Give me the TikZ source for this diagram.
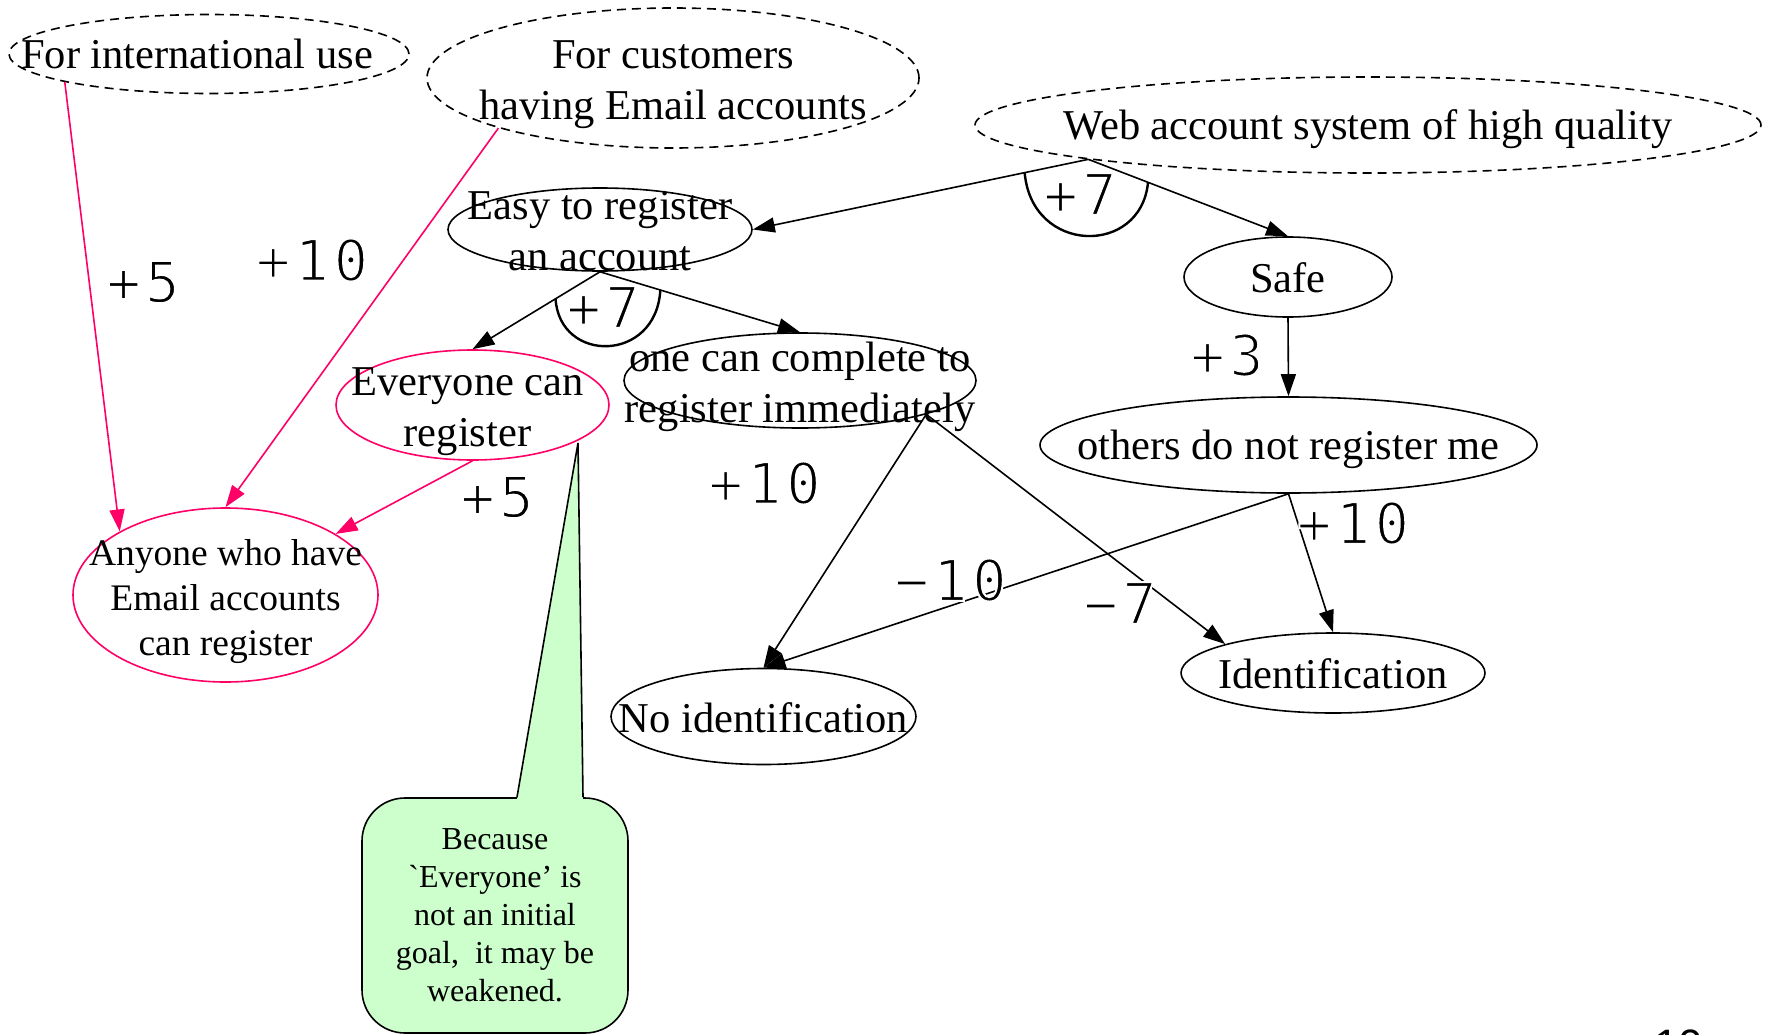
\documentclass[tikz,border=0pt]{standalone}
\usepackage{fontspec}
\setmainfont{Liberation Serif}
\newfontfamily\rawserif[Ligatures=ResetAll]{Liberation Serif}
\newfontfamily\weightfont[LetterSpace=8]{DejaVu Sans Mono}
\newfontfamily\pagefont{Liberation Sans}
\usetikzlibrary{shapes.geometric,arrows.meta,calc}
\definecolor{goalpink}{RGB}{255,0,102}
\definecolor{notegreen}{RGB}{204,255,204}
% thin glyph strokes: outline the glyphs with a white pen
\newcommand\thinstrokes[1]{\special{pdf:literal direct q 2 Tr 1 1 1 RG 2 w}#1\special{pdf:literal direct Q}}

\begin{document}
\begin{tikzpicture}[x=1pt,y=-1pt,
  goal/.style={ellipse, draw, line width=1.6pt, inner sep=0pt},
  softgoal/.style={goal, dash pattern=on 9pt off 6pt},
  pinkgoal/.style={goal, draw=goalpink},
  txt/.style={font=\fontsize{42.5}{51}\selectfont, align=center, inner sep=0pt},
  smalltxt/.style={font=\fontsize{37.5}{45}\selectfont, align=center, inner sep=0pt},
  notetxt/.style={font=\fontsize{32}{38}\selectfont, align=center, inner sep=0pt},
  weight/.style={font=\weightfont\fontsize{57}{62}\selectfont, inner sep=0pt},
  link/.style={line width=1.6pt, -{Triangle[length=22pt,width=15pt]}},
  pinklink/.style={link, draw=goalpink, -{Triangle[length=22pt,width=15pt,fill=goalpink]}},
  andarc/.style={line width=2.4pt}
]
\useasboundingbox (0,0) rectangle (1768,1035);

% soft goals (dashed)
\node[softgoal, minimum width=400pt, minimum height=79pt,
  label={[txt,xshift=-12pt]center:For international use}] (intl) at (209,54) {};
\node[softgoal, minimum width=492pt, minimum height=140pt,
  label={[txt,yshift=-7pt]center:{For customers\\having Email accounts}}] (cust) at (673,78) {};
\node[softgoal, minimum width=786pt, minimum height=96pt,
  label={[txt,yshift=-4.5pt]center:Web account system of high quality}] (web) at (1368,125) {};

% goals
\node[goal, minimum width=304pt, minimum height=83pt,
  label={[txt,yshift=-2pt]center:{Easy to register\\an account}}] (easy) at (600,229.5) {};
\node[goal, minimum width=208pt, minimum height=80pt,
  label={[txt,yshift=-1pt]center:Safe}] (safe) at (1288,277) {};
\node[pinkgoal, minimum width=273pt, minimum height=110pt,
  label={[txt,xshift=-5pt,yshift=-6.5pt]center:{Everyone can\\register}}] (every) at (472.5,405) {};
\node[goal, minimum width=352pt, minimum height=95pt,
  label={[txt,yshift=-6.5pt]center:{one can complete to\\register immediately}}] (one) at (800,380.5) {};
\node[goal, minimum width=497pt, minimum height=96pt,
  label={[txt,yshift=-4.5pt]center:others do not register me}] (others) at (1288.5,445) {};
\node[pinkgoal, minimum width=305pt, minimum height=174pt,
  label={[smalltxt,yshift=-6.5pt]center:{Anyone who have\\Email accounts\\can register}}] (any) at (225.5,595) {};
\node[goal, minimum width=305pt, minimum height=96pt,
  label={[txt,yshift=-1pt]center:No identification}] (noid) at (763.5,716.5) {};
\node[goal, minimum width=304pt, minimum height=80pt,
  label={[txt,yshift=-1pt]center:Identification}] (id) at (1333,673) {};

% contributions
\draw[pinklink] (intl.191) -- (any.149);
\draw[pinklink] (cust.196) -- (any.north);
\draw[pinklink] (every.south) -- (any.29);
\draw[link] (web.187) -- (easy.east);
\draw[link] (web.187) -- (safe.north);
\draw[link] (easy.south) -- (every.north);
\draw[link] (easy.south) -- (one.north);
\draw[link] (safe.south) -- (others.north);
\draw[link] (others.south) -- (noid.north);
\draw[link] (others.south) -- (id.north);
\draw[link] (one.345) -- (noid.north);
\draw[link] (one.345) -- (id.165);

% AND decompositions
\draw[andarc] ($(web.187)!65pt!(easy.east)$) .. controls +(7,82) and +(-7,74) .. ($(web.187)!64pt!(safe.north)$);
\draw[andarc] ($(easy.south)!52pt!(every.north)$) .. controls +(4,65) and +(-4,73) .. ($(easy.south)!63pt!(one.north)$);

% weights
\node[weight] (w1) at (143,282) {\thinstrokes{+5}};
\node[weight] (w2) at (312,260) {\thinstrokes{+10}};
\node[weight] (w3) at (497,497) {\thinstrokes{+5}};
\node[weight] (w4) at (1080,194) {\thinstrokes{+7}};
\node[weight] (w5) at (603,307) {\thinstrokes{+7}};
\node[weight] (w6) at (1227,355) {\thinstrokes{+3}};
\node[weight] (w7) at (764.5,483) {\thinstrokes{+10}};
\node[weight] (w8) at (950.5,580) {\thinstrokes{−10}};
\node[weight] (w9) at (1120,603) {\thinstrokes{−7}};
\node[weight] (w10) at (1353,523) {\thinstrokes{+10}};

% comment balloon
\node[draw, fill=notegreen, line width=1.6pt, rounded corners=43pt,
  minimum width=266pt, minimum height=235pt, inner sep=0pt] (note) at (495,915.5) {};
\coordinate (tip) at (578,443);
\fill[notegreen] ($(note.north)+(22,2)$) -- (tip) -- ($(note.north)+(88,2)$) -- cycle;
\draw[line width=1.6pt] ($(note.north)+(22,0)$) -- (tip) -- ($(note.north)+(88,0)$);
\node[notetxt] (notetext) at (note.center) {Because\\{\rawserif`}Everyone’ is\\not an initial\\goal,\ \ it may be\\weakened.};

% page number
\node[font=\pagefont\fontsize{44}{50}\selectfont, inner sep=0pt, anchor=north] (page) at (1678.5,1030) {10};
\end{tikzpicture}
\end{document}
